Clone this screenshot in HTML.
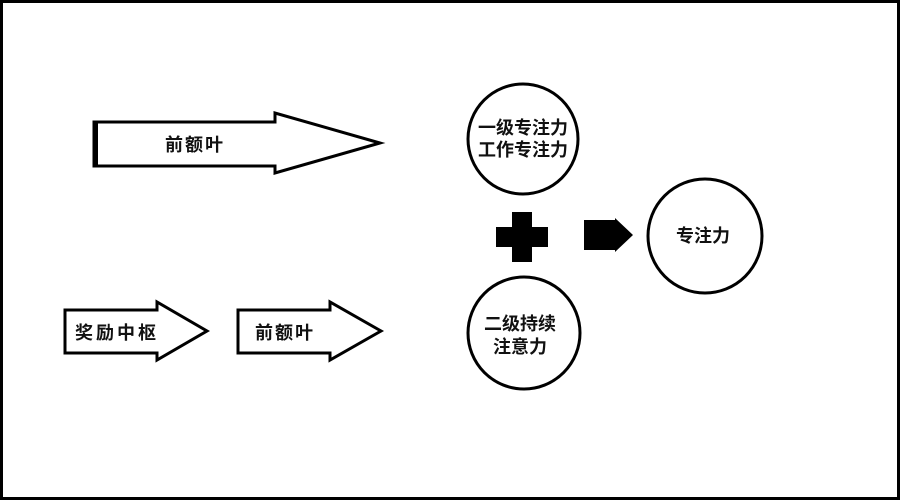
<!DOCTYPE html>
<html><head><meta charset="utf-8"><style>
html,body{margin:0;padding:0;background:#fff}
svg{display:block}
text{font-family:"Liberation Sans","Noto Sans CJK SC",sans-serif;font-weight:bold;font-size:18px;fill:#111}
</style></head><body>
<svg width="900" height="500" viewBox="0 0 900 500" xmlns="http://www.w3.org/2000/svg">
<rect x="1.5" y="1.5" width="897" height="497" fill="#fff" stroke="#000" stroke-width="3"/>
<polygon points="94,122 275,122 275,113 380,143 275,173 275,166 94,166" fill="#fff" stroke="#000" stroke-width="3" stroke-linejoin="miter"/>
<rect x="93" y="121" width="5" height="46" fill="#000"/>
<text x="165" y="151" letter-spacing="2">前额叶</text>
<polygon points="65,310 157,310 157,302 207,331 157,360 157,353 65,353" fill="#fff" stroke="#000" stroke-width="3"/>
<text x="75" y="339" letter-spacing="3">奖励中枢</text>
<polygon points="238,310 330,310 330,302 381,331 330,360 330,353 238,353" fill="#fff" stroke="#000" stroke-width="3"/>
<text x="255" y="339" letter-spacing="2">前额叶</text>
<circle cx="523" cy="139" r="55" fill="#fff" stroke="#000" stroke-width="3"/>
<text x="523" y="134" text-anchor="middle">一级专注力</text>
<text x="523" y="156" text-anchor="middle">工作专注力</text>
<circle cx="524" cy="333" r="56" fill="#fff" stroke="#000" stroke-width="3"/>
<text x="520" y="330" text-anchor="middle">二级持续</text>
<text x="520" y="353" text-anchor="middle">注意力</text>
<circle cx="705" cy="236" r="57" fill="#fff" stroke="#000" stroke-width="3"/>
<text x="703" y="242" text-anchor="middle">专注力</text>
<rect x="512" y="212" width="20" height="50" fill="#000"/>
<rect x="496" y="227" width="52" height="20" fill="#000"/>
<polygon points="584,220 615,220 615,218 633,235 615,252 615,250 584,250" fill="#000"/>
</svg>
</body></html>
